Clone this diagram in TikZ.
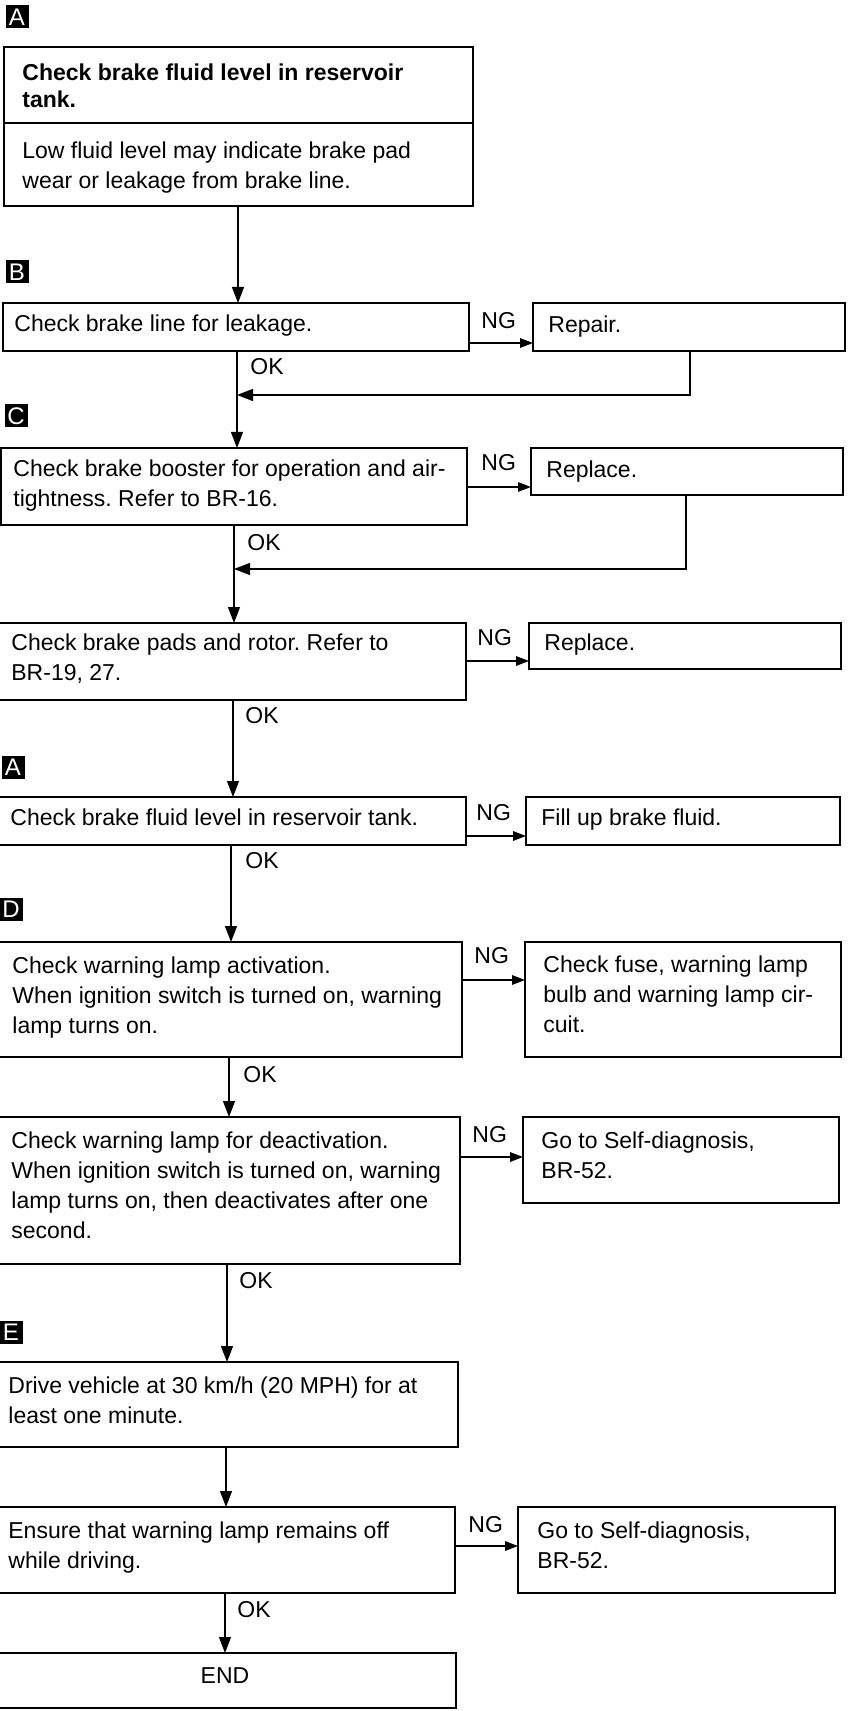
\documentclass[tikz,border=0pt]{standalone}
\usepackage{fontspec}
\setmainfont{Liberation Sans}
\usetikzlibrary{arrows.meta}
\frenchspacing
\newcommand\bx[5]{\node[box, minimum width={(#4-#2)*0.5pt}, minimum height={(#5-#3)*0.5pt}] (#1) at (#2,#3) {};}
\begin{document}
\frenchspacing
\begin{tikzpicture}[x=0.5pt,y=-0.5pt,
  box/.style={draw, line width=0.9pt, rectangle, inner sep=0pt, outer sep=0pt, anchor=north west},
  txt/.style={inner sep=0pt, anchor=north west, align=left, font=\fontsize{11.5}{15}\selectfont},
  lbl/.style={inner sep=0pt, anchor=base west, font=\fontsize{11.5}{15}\selectfont},
  letter/.style={fill=black, text=white, minimum width=11.5pt, minimum height=11.5pt, inner sep=0pt, font=\fontsize{12}{12}\selectfont},
  conn/.style={line width=0.6pt},
  arr/.style={conn, -{Triangle[length=8pt,width=6pt]}},
  ngarr/.style={conn, -{Triangle[length=6.5pt,width=4.8pt]}}]
\clip (0,0) rectangle (849,1711);
\fill[white] (0,0) rectangle (849,1711);

% letter labels
\node[letter] (la1) at (17,17) {A};
\node[letter] (lb) at (17,272) {B};
\node[letter] (lc) at (16,416) {C};
\node[letter] (la2) at (13,767) {A};
\node[letter] (ld) at (11,909) {D};
\node[letter] (le) at (11,1332) {E};

% boxes
\bx{a1}{4}{47}{473}{206}
\bx{b1}{3}{303}{469}{351}
\bx{rep}{533}{303}{845}{351}
\bx{c1}{1}{448}{467}{525}
\bx{rpl1}{531}{448}{843}{495}
\bx{p1}{-3}{623}{466}{700}
\bx{rpl2}{529}{623}{841}{669}
\bx{a2}{-3}{797}{466}{845}
\bx{fill}{526}{797}{840}{845}
\bx{d1}{-3}{942}{462}{1057}
\bx{fuse}{525}{942}{841}{1057}
\bx{d2}{-3}{1117}{460}{1264}
\bx{sd1}{523}{1117}{839}{1203}
\bx{e1}{-3}{1362}{458}{1447}
\bx{e2}{-3}{1507}{455}{1593}
\bx{sd2}{518}{1507}{835}{1593}
\bx{endb}{-3}{1653}{456}{1708}

\coordinate (dv) at (0,123);
\draw[line width=0.9pt] (a1.west |- dv) -- (a1.east |- dv);

% texts
\node[txt, font=\fontsize{11.5}{13.5}\selectfont\bfseries] (ta1) at (22,61) {\strut Check brake fluid level in reservoir\\tank.};
\node[txt] (ta1b) at (22,137) {\strut Low fluid level may indicate brake pad\\wear or leakage from brake line.};
\node[txt] (tb1) at (14,310) {\strut Check brake line for leakage.};
\node[txt] (trep) at (548,311) {\strut Repair.};
\node[txt] (tc1) at (13,455) {\strut Check brake booster for operation and air-\\tightness. Refer to BR-16.};
\node[txt] (trpl1) at (546,456) {\strut Replace.};
\node[txt] (tp1) at (11,629) {\strut Check brake pads and rotor. Refer to\\BR-19, 27.};
\node[txt] (trpl2) at (544,629) {\strut Replace.};
\node[txt] (ta2) at (10,804) {\strut Check brake fluid level in reservoir tank.};
\node[txt] (tfill) at (541,804) {\strut Fill up brake fluid.};
\node[txt] (td1) at (12,952) {\strut Check warning lamp activation.\\When ignition switch is turned on, warning\\lamp turns on.};
\node[txt] (tfuse) at (543,951) {\strut Check fuse, warning lamp\\bulb and warning lamp cir-\\cuit.};
\node[txt] (td2) at (11,1127) {\strut Check warning lamp for deactivation.\\When ignition switch is turned on, warning\\lamp turns on, then deactivates after one\\second.};
\node[txt] (tsd1) at (541,1127) {\strut Go to Self-diagnosis,\\BR-52.};
\node[txt] (te1) at (8,1372) {\strut Drive vehicle at 30 km/h (20 MPH) for at\\least one minute.};
\node[txt] (te2) at (8,1517) {\strut Ensure that warning lamp remains off\\while driving.};
\node[txt] (tsd2) at (537,1517) {\strut Go to Self-diagnosis,\\BR-52.};
\node[lbl, anchor=base] (tend) at (225,1683) {END};

% main vertical flow
\coordinate (m1) at (238,0);
\coordinate (m2) at (237,0);
\coordinate (m3) at (234,0);
\coordinate (m4) at (233,0);
\coordinate (m5) at (231,0);
\coordinate (m6) at (229,0);
\coordinate (m7) at (227,0);
\coordinate (m8) at (226,0);
\coordinate (m9) at (225,0);
\draw[arr] (a1.south -| m1) -- (b1.north -| m1);
\draw[arr] (b1.south -| m2) -- (c1.north -| m2);
\draw[arr] (c1.south -| m3) -- (p1.north -| m3);
\draw[arr] (p1.south -| m4) -- (a2.north -| m4);
\draw[arr] (a2.south -| m5) -- (d1.north -| m5);
\draw[arr] (d1.south -| m6) -- (d2.north -| m6);
\draw[arr] (d2.south -| m7) -- (e1.north -| m7);
\draw[arr] (e1.south -| m8) -- (e2.north -| m8);
\draw[arr] (e2.south -| m9) -- (endb.north -| m9);

% return lines
\coordinate (r1) at (690,395);
\coordinate (r2) at (686,569);
\draw[arr] (rep.south -| r1) -- (r1) -- (m2 |- r1);
\draw[arr] (rpl1.south -| r2) -- (r2) -- (m3 |- r2);

% NG arrows
\coordinate (n1) at (0,343);
\coordinate (n2) at (0,487);
\coordinate (n3) at (0,661);
\coordinate (n4) at (0,836);
\coordinate (n5) at (0,980);
\coordinate (n6) at (0,1157);
\coordinate (n7) at (0,1546);
\draw[ngarr] (b1.east |- n1) -- (rep.west |- n1);
\draw[ngarr] (c1.east |- n2) -- (rpl1.west |- n2);
\draw[ngarr] (p1.east |- n3) -- (rpl2.west |- n3);
\draw[ngarr] (a2.east |- n4) -- (fill.west |- n4);
\draw[ngarr] (d1.east |- n5) -- (fuse.west |- n5);
\draw[ngarr] (d2.east |- n6) -- (sd1.west |- n6);
\draw[ngarr] (e2.east |- n7) -- (sd2.west |- n7);

% NG labels
\node[lbl] (ng1) at (481,329) {NG};
\node[lbl] (ng2) at (481,470) {NG};
\node[lbl] (ng3) at (477,645) {NG};
\node[lbl] (ng4) at (476,820) {NG};
\node[lbl] (ng5) at (474,963) {NG};
\node[lbl] (ng6) at (472,1142) {NG};
\node[lbl] (ng7) at (468,1532) {NG};

% OK labels
\node[lbl] (ok1) at (250,375) {OK};
\node[lbl] (ok2) at (247,550) {OK};
\node[lbl] (ok3) at (245,723) {OK};
\node[lbl] (ok4) at (245,868) {OK};
\node[lbl] (ok5) at (243,1082) {OK};
\node[lbl] (ok6) at (239,1288) {OK};
\node[lbl] (ok7) at (237,1617) {OK};
\end{tikzpicture}
\end{document}
